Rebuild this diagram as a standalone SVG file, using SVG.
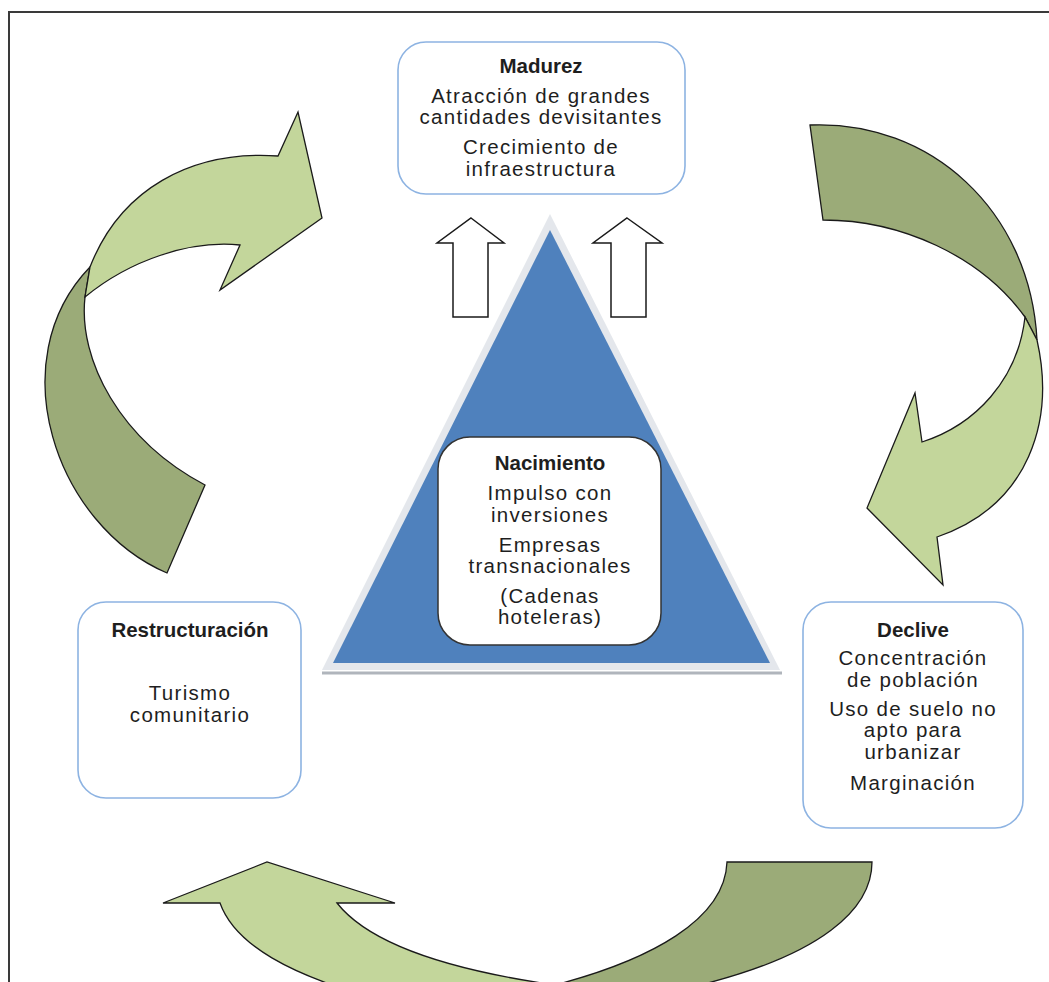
<svg xmlns="http://www.w3.org/2000/svg" width="1049" height="982" viewBox="0 0 1049 982">
<defs>
<style>
.box{fill:#fff;stroke:#8db3e2;stroke-width:1.6}
.t{font-family:"Liberation Sans",Arial,sans-serif;font-size:20.5px;fill:#1e1e1e;text-anchor:middle;letter-spacing:1.3px}
.b{font-family:"Liberation Sans",Arial,sans-serif;font-size:20.5px;font-weight:bold;fill:#1e1e1e;text-anchor:middle}
.lg{fill:#c3d69b;stroke:#1a1a1a;stroke-width:1.3;stroke-linejoin:miter}
.dg{fill:#9bab78;stroke:#1a1a1a;stroke-width:1.3;stroke-linejoin:miter}
.up{fill:#fff;stroke:#1a1a1a;stroke-width:1.5}
</style>
</defs>
<rect x="9" y="12" width="1100" height="1000" fill="none" stroke="#3a3a3a" stroke-width="2"/>

<g id="connectors">
  <!-- left curved arrow -->
  <path class="dg" d="M167,573 C55,525 0,360 90,267 L85,297 C78,360 120,440 205,485 Z"/>
  <path class="lg" d="M85,297 C130,260 190,240 240,245 L220,290 L322,218 L298,112 L278,156 C190,150 120,190 90,267 Z"/>
  <!-- right curved arrow -->
  <path class="dg" d="M810,125 C930,120 1030,210 1037,340 L1025,317 C980,255 900,220 823,220 Z"/>
  <path class="lg" d="M1037,340 C1055,420 1030,505 937,537 L943,585 L867,508 L915,393 L922,442 C975,425 1018,380 1025,317 Z"/>
  <!-- bottom curved arrow -->
  <path class="dg" d="M727,862 L872,862 C872,910 820,955 700,985 L600,1000 L555,985 C650,960 725,920 727,862 Z"/>
  <path class="lg" d="M163,903 L267,862 L395,903 L337,903 C370,945 450,970 555,985 L520,1000 L380,1000 C290,975 235,945 220,903 Z"/>
  <!-- up arrows -->
  <path class="up" d="M471,218 L504,243 L488,243 L488,317 L453,317 L453,243 L437,243 Z"/>
  <path class="up" d="M627,218 L662,243 L646,243 L646,317 L611,317 L611,243 L593,243 Z"/>
</g>

<g id="triangle">
  <polygon points="550,214 322,670 780,670" fill="#e4e7ec"/>
  <line x1="322" y1="673" x2="782" y2="673" stroke="#b0b5bc" stroke-width="3"/>
  <polygon points="550,230 333,663 770,663" fill="#4f81bd"/>
</g>

<g id="madurez">
  <rect class="box" x="398" y="42" width="287" height="152" rx="28"/>
  <text class="b" x="541" y="73">Madurez</text>
  <text class="t" x="541" y="103">Atracción de grandes</text>
  <text class="t" x="541" y="124">cantidades devisitantes</text>
  <text class="t" x="541" y="154">Crecimiento de</text>
  <text class="t" x="541" y="176">infraestructura</text>
</g>

<g id="nacimiento">
  <rect x="438" y="437" width="223" height="208" rx="32" fill="#fff" stroke="#333" stroke-width="1.5"/>
  <text class="b" x="550" y="470">Nacimiento</text>
  <text class="t" x="550" y="500">Impulso con</text>
  <text class="t" x="550" y="522">inversiones</text>
  <text class="t" x="550" y="552">Empresas</text>
  <text class="t" x="550" y="573">transnacionales</text>
  <text class="t" x="550" y="603">(Cadenas</text>
  <text class="t" x="550" y="624">hoteleras)</text>
</g>

<g id="restructuracion">
  <rect class="box" x="78" y="602" width="223" height="196" rx="28"/>
  <text class="b" x="190" y="637">Restructuración</text>
  <text class="t" x="190" y="700">Turismo</text>
  <text class="t" x="190" y="722">comunitario</text>
</g>

<g id="declive">
  <rect class="box" x="803" y="602" width="220" height="226" rx="28"/>
  <text class="b" x="913" y="637">Declive</text>
  <text class="t" x="913" y="665">Concentración</text>
  <text class="t" x="913" y="687">de población</text>
  <text class="t" x="913" y="716">Uso de suelo no</text>
  <text class="t" x="913" y="737">apto para</text>
  <text class="t" x="913" y="759">urbanizar</text>
  <text class="t" x="913" y="790">Marginación</text>
</g>
</svg>
